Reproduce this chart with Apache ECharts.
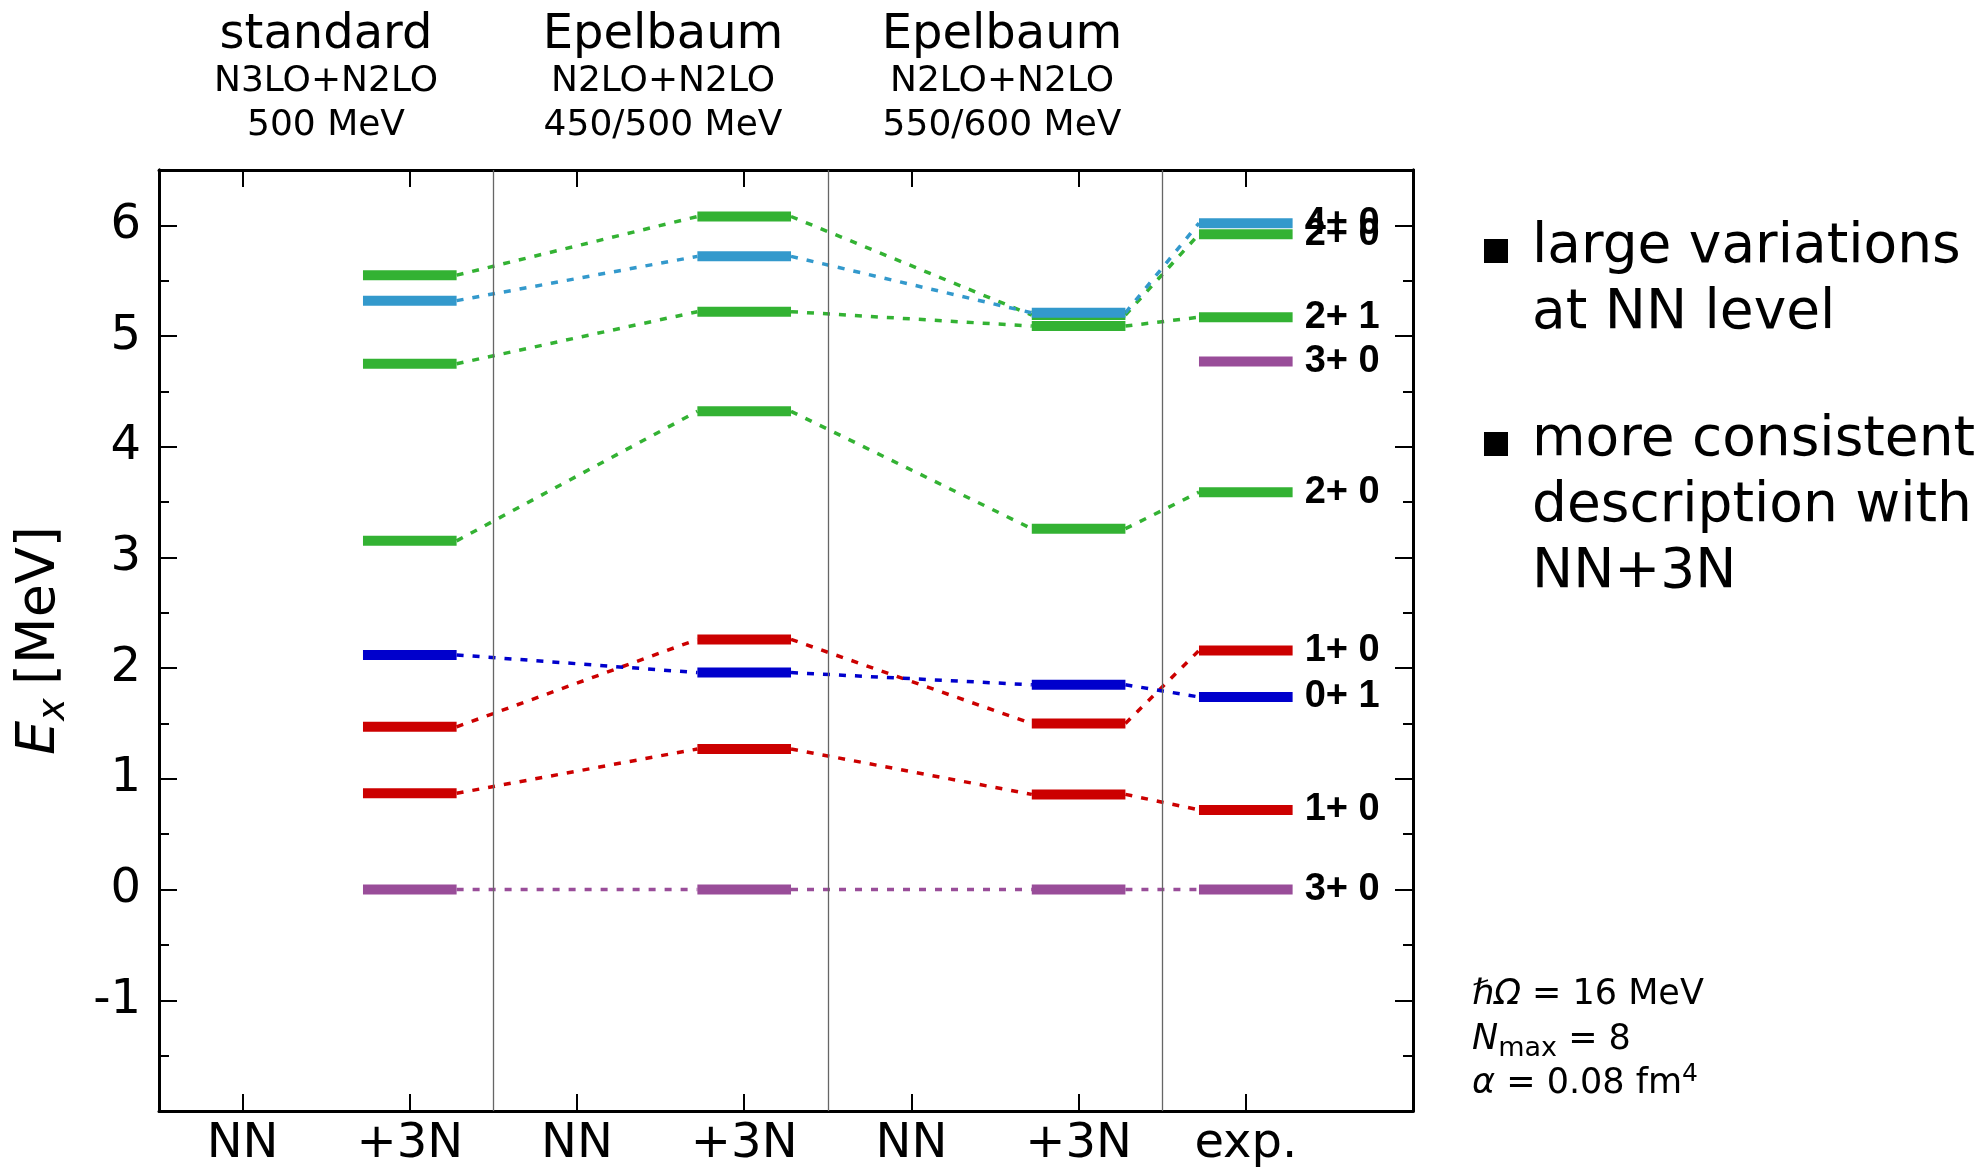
<!DOCTYPE html>
<html><head><meta charset="utf-8">
<script src="https://cdn.jsdelivr.net/npm/echarts@6/dist/echarts.min.js"></script>
<style>html,body{margin:0;padding:0;background:#fff}#c{width:1984px;height:1167px}</style>
</head><body><div id="c"></div>
<script>
// ---- data ----
const categories = ['NN', '+3N', 'NN', '+3N', 'NN', '+3N', 'exp.'];
const categoryPositions = [1, 2, 3, 4, 5, 6, 7];
const columnPositions = [2, 4, 6, 7];   // std +3N, Epelbaum 450/500 +3N, Epelbaum 550/600 +3N, exp.
const separatorPositions = [2.5, 4.5, 6.5];
const groupTitles = ['standard', 'Epelbaum', 'Epelbaum'];
const groupSub1 = ['N3LO+N2LO', 'N2LO+N2LO', 'N2LO+N2LO'];
const groupSub2 = ['500 MeV', '450/500 MeV', '550/600 MeV'];

// excitation energies (MeV) per column
const track3p0   = [0.00, 0.00, 0.00, 0.00];
const track1p0a  = [0.87, 1.27, 0.86, 0.72];
const track1p0b  = [1.47, 2.26, 1.50, 2.16];
const track0p1   = [2.12, 1.96, 1.85, 1.74];
const track2p0a  = [3.15, 4.32, 3.26, 3.59];
const track2p1   = [4.75, 5.22, 5.09, 5.17];
const track2p0b  = [5.55, 6.08, 5.19, 5.92];
const track4p0   = [5.32, 5.72, 5.21, 6.02];
const expOnly3p0 = [4.77];

const trackLabels = ['3+ 0', '1+ 0', '1+ 0', '0+ 1', '2+ 0', '2+ 1', '2+ 0', '4+ 0'];
const expOnlyLabels = ['3+ 0'];

// ---- styling ----
const PURPLE = '#994d99', RED = '#cc0000', DBLUE = '#0000cc', GREEN = '#33b233', LBLUE = '#3399cc';
const tracks = [
  { v: track3p0,  c: PURPLE, l: trackLabels[0] },
  { v: track1p0a, c: RED,    l: trackLabels[1] },
  { v: track1p0b, c: RED,    l: trackLabels[2] },
  { v: track0p1,  c: DBLUE,  l: trackLabels[3] },
  { v: track2p0a, c: GREEN,  l: trackLabels[4] },
  { v: track2p1,  c: GREEN,  l: trackLabels[5] },
  { v: track2p0b, c: GREEN,  l: trackLabels[6] },
  { v: track4p0,  c: LBLUE,  l: trackLabels[7] }
];
const HW = 0.28;
const series = [];

// separators
series.push({
  type: 'line', data: [], silent: true,
  markLine: {
    symbol: 'none', silent: true, label: { show: false },
    lineStyle: { color: '#666', width: 1.3, type: 'solid' },
    data: separatorPositions.map(x => ({ xAxis: x }))
  }
});

// dashed connectors
tracks.forEach(t => {
  for (let i = 0; i < columnPositions.length - 1; i++) {
    series.push({
      type: 'line', silent: true, symbol: 'none', z: 2,
      data: [[columnPositions[i] + HW, t.v[i]], [columnPositions[i + 1] - HW, t.v[i + 1]]],
      lineStyle: { color: t.c, width: 3.5, type: [7, 9] }
    });
  }
});
// level bars
tracks.forEach(t => {
  columnPositions.forEach((x, i) => {
    series.push({
      type: 'line', silent: true, symbol: 'none', z: 3,
      data: [[x - HW, t.v[i]], [x + HW, t.v[i]]],
      lineStyle: { color: t.c, width: 10, cap: 'butt' }
    });
  });
});
expOnly3p0.forEach(v => {
  series.push({
    type: 'line', silent: true, symbol: 'none', z: 3,
    data: [[7 - HW, v], [7 + HW, v]],
    lineStyle: { color: PURPLE, width: 10, cap: 'butt' }
  });
});
// exp labels
const labelData = tracks.map(t => [7 + HW, t.v[3], t.l]).concat(expOnly3p0.map((v, i) => [7 + HW, v, expOnlyLabels[i]]));
series.push({
  type: 'scatter', silent: true, symbolSize: 0.1, z: 4,
  itemStyle: { color: '#ffffff', opacity: 1 },
  data: labelData,
  label: {
    show: true, position: 'right', distance: 12, padding: [12, 0, 0, 0],
    formatter: p => p.value[2],
    fontSize: 38, fontWeight: 'bold', fontFamily: 'Liberation Sans', color: '#000', opacity: 1
  },
  labelLayout: { hideOverlap: false }
});

const FONT = 'DejaVu Sans';
const axisLineStyle = { show: true, onZero: false, lineStyle: { color: '#000', width: 3 } };
function yAx(pos, len, interval, showLabel, name) {
  const a = {
    type: 'value', min: -2, max: 6.5, interval: interval, position: pos,
    axisLine: axisLineStyle,
    axisTick: { show: true, inside: true, length: len, lineStyle: { color: '#000', width: 2 } },
    splitLine: { show: false },
    axisLabel: {
      show: showLabel, margin: 18, fontSize: 48, fontFamily: FONT, color: '#000',
      formatter: v => (v === -2 || v !== Math.round(v)) ? '' : String(v)
    }
  };
  if (name) {
    a.name = '{e|E}{x|x}    {n|[MeV]}';
    a.nameLocation = 'middle';
    a.nameRotate = 90;
    a.nameGap = 86;
    a.nameTextStyle = {
      rich: {
        e: { fontSize: 54, fontStyle: 'italic', fontFamily: FONT, color: '#000', lineHeight: 66 },
        x: { fontSize: 38, fontStyle: 'italic', fontFamily: FONT, color: '#000', verticalAlign: 'bottom', lineHeight: 32 },
        n: { fontSize: 54, fontFamily: FONT, color: '#000', lineHeight: 66 }
      }
    };
  }
  return a;
}
function xAx(pos, showLabel) {
  return {
    type: 'value', min: 0.5, max: 8, position: pos,
    axisLine: axisLineStyle,
    axisTick: { show: true, inside: true, length: 17, customValues: categoryPositions, lineStyle: { color: '#000', width: 2 } },
    splitLine: { show: false },
    axisLabel: {
      show: showLabel, customValues: categoryPositions, margin: 10, fontSize: 48, fontFamily: FONT, color: '#000',
      formatter: v => categories[categoryPositions.indexOf(v)] || ''
    }
  };
}

const titleCenters = [326, 663, 1002];
const graphics = [];
titleCenters.forEach((cx, i) => {
  graphics.push({
    type: 'text', x: cx, y: 12,
    style: {
      text: '{a|' + groupTitles[i] + '}\n{b|' + groupSub1[i] + '}\n{b|' + groupSub2[i] + '}',
      align: 'center', textAlign: 'center', verticalAlign: 'top', textVerticalAlign: 'top',
      rich: {
        a: { fontSize: 48, fontFamily: FONT, fill: '#000', color: '#000', lineHeight: 48, align: 'center' },
        b: { fontSize: 36, fontFamily: FONT, fill: '#000', color: '#000', lineHeight: 44, align: 'center' }
      }
    }
  });
});
// bullet notes
const notes = [
  { y: 215, text: 'large variations\nat NN level' },
  { y: 408, text: 'more consistent\ndescription with\nNN+3N' }
];
notes.forEach(n => {
  graphics.push({ type: 'rect', shape: { x: 1484, y: n.y + 24, width: 24, height: 24 }, style: { fill: '#000' } });
  graphics.push({
    type: 'text', x: 1532, y: n.y,
    style: { text: n.text, font: '55px "DejaVu Sans"', fill: '#000', lineHeight: 66, verticalAlign: 'top', textVerticalAlign: 'top' }
  });
});
// parameters
const params = [
  { y: 973, text: '{i|ℏΩ}{n| = 16 MeV}' },
  { y: 1018, text: '{i|N}{s|max}{n| = 8}' },
  { y: 1062, text: '{i|α}{n| = 0.08 fm}{p|4}' }
];
params.forEach(p => {
  graphics.push({
    type: 'text', x: 1472, y: p.y,
    style: {
      text: p.text, verticalAlign: 'top', textVerticalAlign: 'top',
      rich: {
        i: { fontSize: 35, fontStyle: 'italic', fontFamily: FONT, fill: '#000', lineHeight: 44 },
        n: { fontSize: 35, fontFamily: FONT, fill: '#000', lineHeight: 44 },
        s: { fontSize: 27, fontFamily: FONT, fill: '#000', lineHeight: 44, verticalAlign: 'bottom', padding: [12, 0, 0, 0] },
        p: { fontSize: 25, fontFamily: FONT, fill: '#000', lineHeight: 44, verticalAlign: 'top', padding: [0, 0, 14, 0] }
      }
    }
  });
});

const chart = echarts.init(document.getElementById('c'), null, { renderer: 'canvas' });
chart.setOption({
  backgroundColor: '#fff',
  animation: false,
  grid: { left: 159, right: 571, top: 170, bottom: 56, containLabel: false, outerBoundsMode: 'none' },
  xAxis: [xAx('bottom', true), xAx('top', false)],
  yAxis: [
    yAx('left', 18, 1, true, true),
    yAx('left', 10, 0.5, false, false),
    yAx('right', 18, 1, false, false),
    yAx('right', 10, 0.5, false, false)
  ],
  series: series,
  graphic: graphics
});
</script>
</body></html>
